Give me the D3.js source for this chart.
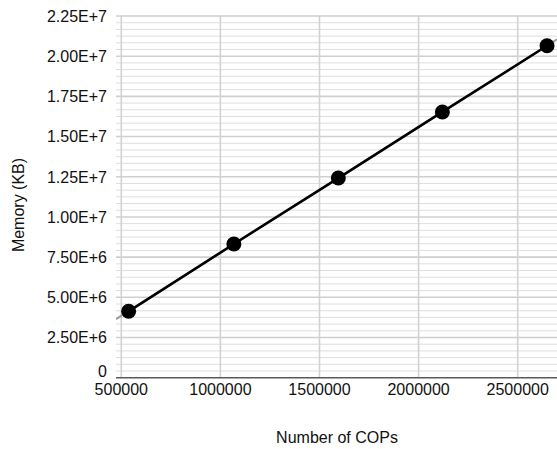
<!DOCTYPE html>
<html>
<head>
<meta charset="utf-8">
<script src="https://cdn.jsdelivr.net/npm/d3@7"></script>
<style>
  html, body { margin: 0; padding: 0; background: #fff; }
  svg { display: block; }
  text { font-family: "Liberation Sans", Arial, sans-serif; fill: #111; }
</style>
</head>
<body>
<svg id="chart" width="557" height="449"></svg>
<script>
// Memory use against number of COPs
const cops = [537000, 1068000, 1595000, 2120000, 2648000];
const memoryKB = [4130000, 8317000, 12420000, 16530000, 20650000];
const xTicks = [500000, 1000000, 1500000, 2000000, 2500000];
const yTicks = [0, 2500000, 5000000, 7500000, 10000000, 12500000, 15000000, 17500000, 20000000, 22500000];
const yTickLabels = ["0", "2.50E+6", "5.00E+6", "7.50E+6", "1.00E+7", "1.25E+7", "1.50E+7", "1.75E+7", "2.00E+7", "2.25E+7"];
const xTitle = "Number of COPs";
const yTitle = "Memory (KB)";

const W = 557, H = 449;
const plot = { left: 116, right: 557, top: 16, bottom: 377.7 };

const svg = d3.select("#chart");

const x = d3.scaleLinear().domain([473300, 2698300]).range([plot.left, plot.right]);
const y = d3.scaleLinear().domain([0, 22500000]).range([plot.bottom, plot.top]);

// minor horizontal gridlines: six divisions per major step
const minorStep = 2500000 / 6;
const minorTicks = d3.range(0, 22500000 + 1, minorStep)
  .filter((v, i) => i % 6 !== 0);

const grid = svg.append("g");
grid.selectAll("line.minor").data(minorTicks).join("line")
  .attr("class", "minor")
  .attr("x1", plot.left).attr("x2", plot.right)
  .attr("y1", d => y(d)).attr("y2", d => y(d))
  .attr("stroke", "#dedede").attr("stroke-width", 1);

grid.selectAll("line.major").data(yTicks.slice(1)).join("line")
  .attr("class", "major")
  .attr("x1", plot.left).attr("x2", plot.right)
  .attr("y1", d => y(d)).attr("y2", d => y(d))
  .attr("stroke", "#cfcfcf").attr("stroke-width", 1.6);

grid.selectAll("line.vert").data(xTicks).join("line")
  .attr("class", "vert")
  .attr("x1", d => x(d)).attr("x2", d => x(d))
  .attr("y1", plot.top).attr("y2", plot.bottom)
  .attr("stroke", "#d2d2d2").attr("stroke-width", 1.6);

// x axis baseline
svg.append("line")
  .attr("x1", plot.left).attr("x2", plot.right)
  .attr("y1", y(0)).attr("y2", y(0))
  .attr("stroke", "#595959").attr("stroke-width", 1.6);

// tick labels
svg.append("g").selectAll("text").data(yTicks).join("text")
  .attr("x", 107)
  .attr("y", d => y(d))
  .attr("dy", (d, i) => i === 0 ? "-0.05em" : "0.36em")
  .attr("text-anchor", "end")
  .attr("font-size", 16)
  .text((d, i) => yTickLabels[i]);

svg.append("g").selectAll("text").data(xTicks).join("text")
  .attr("x", d => x(d))
  .attr("y", 395)
  .attr("text-anchor", "middle")
  .attr("font-size", 16)
  .text(d => d3.format("d")(d));

// axis titles
svg.append("text")
  .attr("x", 337).attr("y", 443)
  .attr("text-anchor", "middle")
  .attr("font-size", 16)
  .text(xTitle);

svg.append("text")
  .attr("transform", "translate(24,205) rotate(-90)")
  .attr("text-anchor", "middle")
  .attr("font-size", 16)
  .text(yTitle);

// clip for series
svg.append("clipPath").attr("id", "plotClip")
  .append("rect")
  .attr("x", plot.left).attr("y", plot.top - 10)
  .attr("width", plot.right - plot.left).attr("height", plot.bottom - plot.top + 10);

const pts = cops.map((c, i) => [c, memoryKB[i]]);

// linear trendline across the plot
const mx = d3.mean(cops), my = d3.mean(memoryKB);
const slope = d3.sum(pts, p => (p[0] - mx) * (p[1] - my)) / d3.sum(pts, p => (p[0] - mx) ** 2);
const intercept = my - slope * mx;
const xd = x.domain();
svg.append("line")
  .attr("clip-path", "url(#plotClip)")
  .attr("x1", x(xd[0])).attr("y1", y(intercept + slope * xd[0]))
  .attr("x2", x(xd[1])).attr("y2", y(intercept + slope * xd[1]))
  .attr("stroke", "#9a9a9a").attr("stroke-width", 2);

// data line and markers
svg.append("path")
  .datum(pts)
  .attr("fill", "none")
  .attr("stroke", "#000")
  .attr("stroke-width", 2.6)
  .attr("d", d3.line().x(d => x(d[0])).y(d => y(d[1])));

svg.append("g").selectAll("circle").data(pts).join("circle")
  .attr("cx", d => x(d[0]))
  .attr("cy", d => y(d[1]))
  .attr("r", 7.5)
  .attr("fill", "#000");
</script>
</body>
</html>
